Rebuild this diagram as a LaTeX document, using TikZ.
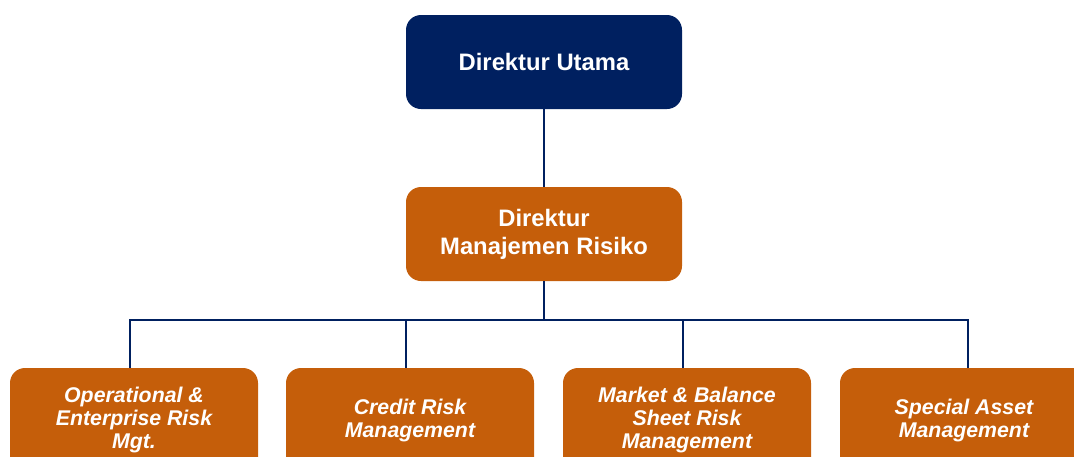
\documentclass[tikz,border=0pt]{standalone}
\usepackage{fontspec}
\setmainfont{Liberation Sans}
\definecolor{navy}{RGB}{0,32,96}
\definecolor{rust}{RGB}{197,94,10}

\begin{document}
\begin{tikzpicture}[x=1pt,y=-1pt,
  box/.style={rounded corners=15pt,text=white,align=center,inner sep=0pt},
  head/.style={box,fill=navy,minimum width=276pt,minimum height=94pt,
    font=\bfseries\fontsize{23.8}{28}\selectfont},
  dir/.style={box,fill=rust,minimum width=276pt,minimum height=94pt,
    font=\bfseries\fontsize{23.8}{28}\selectfont},
  unit/.style={box,fill=rust,minimum width=248pt,minimum height=104pt,
    font=\bfseries\itshape\fontsize{21.3}{23}\selectfont},
  link/.style={draw=navy,line width=2pt}]
\useasboundingbox (0,0) rectangle (1074,456);
\clip (0,0) rectangle (1074,456);
%\draw[step=50pt,gray,very thin] (0,0) grid (1074,456);
\node[head] (utama) at (544,62) {Direktur Utama};
\node[dir] (risiko) at (544,234) {Direktur\\Manajemen Risiko};
\node[unit] (ops) at (134,420) {Operational \&\\Enterprise Risk\\Mgt.};
\node[unit] (credit) at (410,420) {Credit Risk\\Management};
\node[unit] (market) at (687,420) {Market \& Balance\\Sheet Risk\\Management};
\node[unit] (asset) at (964,420) {Special Asset\\Management};
\coordinate (bar) at (544,320);
\draw[link] (utama) -- (risiko);
\draw[link] (risiko) -- (bar);
\draw[link] (bar) -| ([xshift=-4pt]ops.north);
\draw[link] (bar) -| ([xshift=-4pt]credit.north);
\draw[link] (bar) -| ([xshift=-4pt]market.north);
\draw[link] (bar) -| ([xshift=4pt]asset.north);
\end{tikzpicture}
\end{document}
